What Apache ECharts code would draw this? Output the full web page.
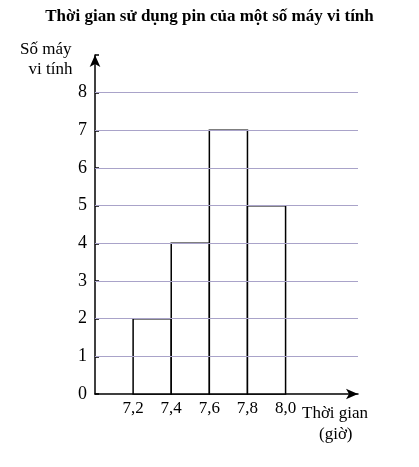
<!DOCTYPE html>
<html lang="vi">
<head>
    <meta charset="UTF-8">
    <title>Thời gian sử dụng pin</title>
    <script src="https://cdn.jsdelivr.net/npm/echarts@6/dist/echarts.min.js"></script>
    <style>
        body { margin: 0; background: #fff; }
        #app { width: 419px; height: 467px; }
    </style>
</head>
<body>
    <div id="app"></div>
    <script>
        // histogram class edges and counts
        const edges = [7.2, 7.4, 7.6, 7.8, 8.0]
        const counts = [2, 4, 7, 5]
        const xLabels = ['7,2', '7,4', '7,6', '7,8', '8,0']
        const yTicks = [1, 2, 3, 4, 5, 6, 7, 8]

        const font = 'Liberation Serif'
        const bins = counts.map((c, i) => [edges[i], edges[i + 1], c])

        let mCharts = echarts.init(document.getElementById('app'))
        let option = {
            animation: false,
            title: {
                text: 'Thời gian sử dụng pin của một số máy vi tính',
                left: 'center', top: 3,
                textStyle: { fontFamily: font, fontSize: 17, fontWeight: 'bold', color: '#000' }
            },
            grid: { left: 95, right: 61, top: 55, bottom: 73 },
            xAxis: {
                type: 'value', min: 7.0, max: 8.38, interval: 0.2,
                axisLine: { lineStyle: { color: '#000', width: 1.5 }, symbol: ['none', 'arrow'], symbolSize: [8, 12] },
                axisTick: { show: false },
                splitLine: { show: false },
                axisLabel: {
                    fontFamily: font, fontSize: 17, color: '#000', margin: 6,
                    formatter: v => {
                        let i = edges.findIndex(e => Math.abs(e - v) < 1e-6)
                        return i >= 0 ? xLabels[i] : ''
                    }
                }
            },
            yAxis: {
                type: 'value', min: 0, max: 9, interval: 1,
                axisLine: { show: true, lineStyle: { color: '#000', width: 1.5 }, symbol: ['none', 'arrow'], symbolSize: [8, 12] },
                axisTick: { show: true, inside: true, length: 4, lineStyle: { color: '#000', width: 1.5 } },
                splitLine: { show: false },
                axisLabel: {
                    fontFamily: font, fontSize: 18, color: '#000', margin: 8,
                    formatter: v => v <= 8 ? String(v) : ''
                }
            },
            graphic: [
                { type: 'text', left: 20, top: 40, style: { text: 'Số máy\n  vi tính', font: '17px "Liberation Serif"', fill: '#000', lineHeight: 20 } },
                { type: 'text', left: 302, top: 403, style: { text: 'Thời gian\n    (giờ)', font: '17px "Liberation Serif"', fill: '#000', lineHeight: 21 } }
            ],
            series: [
                {
                    type: 'line', data: [], silent: true,
                    markLine: {
                        symbol: 'none', silent: true, label: { show: false },
                        lineStyle: { color: '#a9a3c9', width: 1, type: 'solid' },
                        data: yTicks.map(t => [{ coord: [7.0, t] }, { coord: [8.38, t] }])
                    }
                },
                {
                    type: 'custom',
                    data: bins,
                    renderItem: (params, api) => {
                        let p0 = api.coord([api.value(0), 0])
                        let p1 = api.coord([api.value(1), api.value(2)])
                        return {
                            type: 'rect',
                            shape: { x: p0[0], y: p1[1], width: p1[0] - p0[0], height: p0[1] - p1[1] },
                            style: { fill: '#fff', stroke: '#000', lineWidth: 1.5 }
                        }
                    },
                    encode: { x: [0, 1], y: 2 }
                }
            ]
        }
        mCharts.setOption(option)
    </script>
</body>
</html>
